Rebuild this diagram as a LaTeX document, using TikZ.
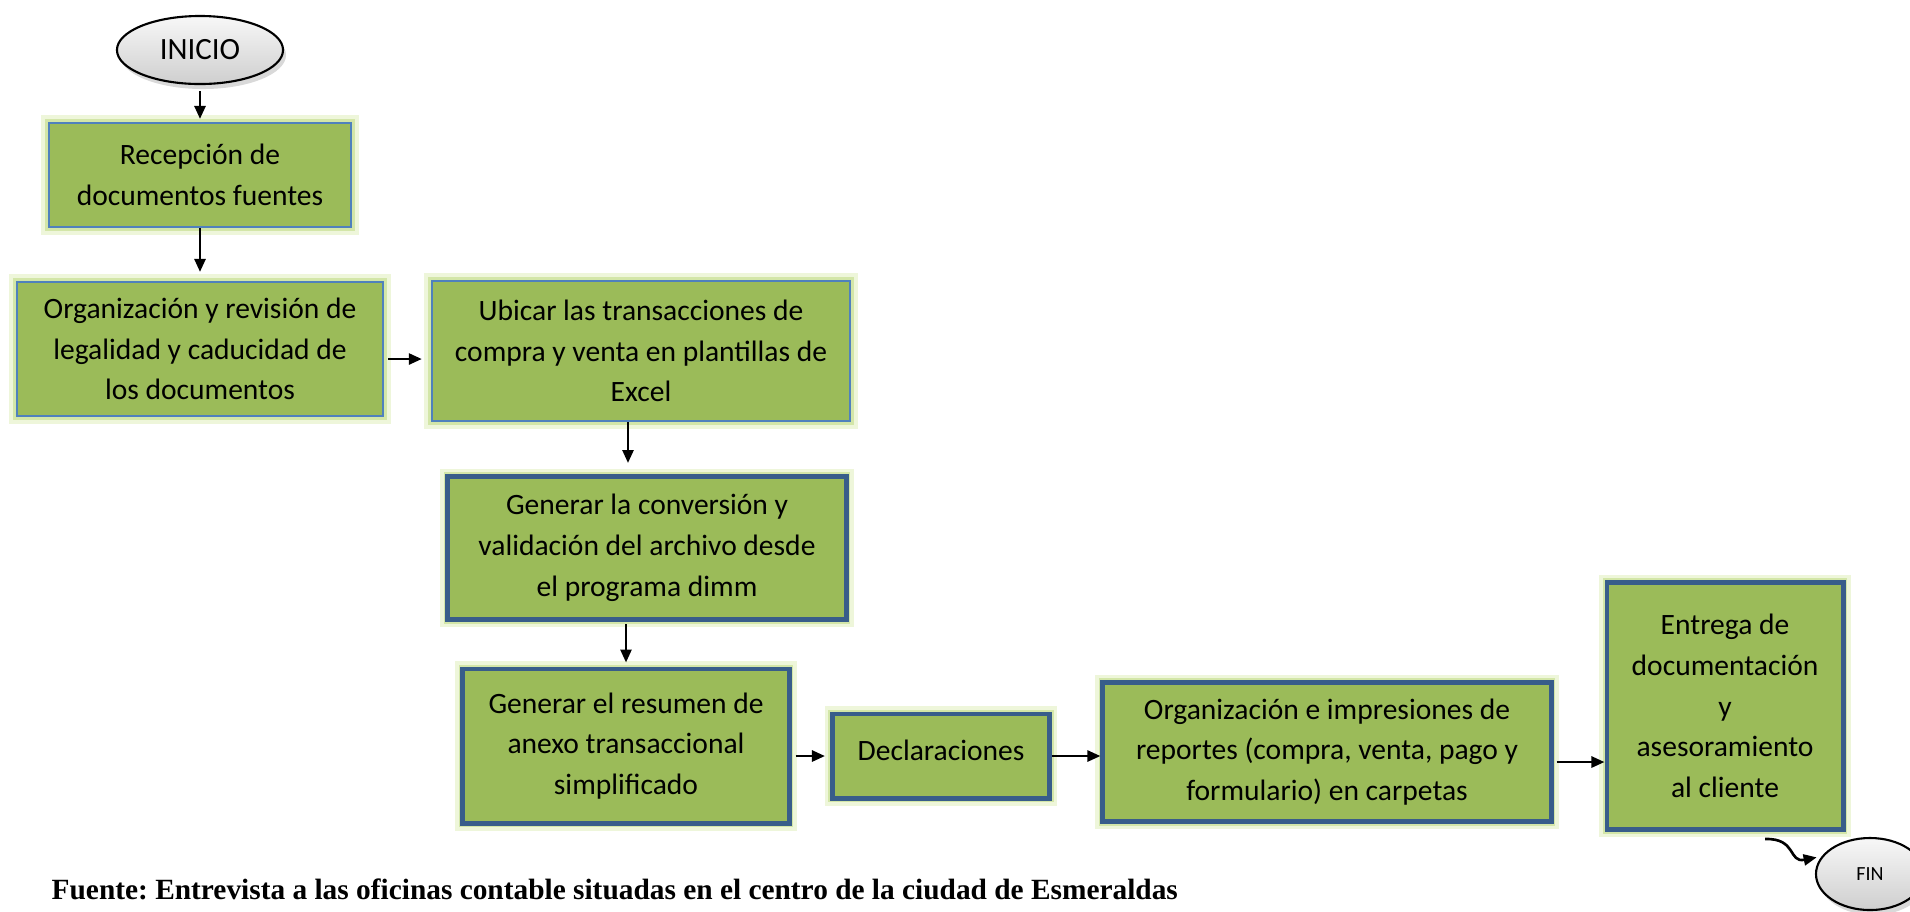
\documentclass[tikz,border=0pt]{standalone}
\usepackage{fontspec}
\setmainfont{Carlito}
\newfontfamily\fuentefont{Liberation Serif}
\usetikzlibrary{arrows.meta, positioning, shapes.geometric, shadows}
\frenchspacing

\definecolor{cajaverde}{HTML}{9BBB59}
\definecolor{bordeazul}{HTML}{4F81BD}
\definecolor{bordeoscuro}{HTML}{385D8A}
\definecolor{brillo}{HTML}{D3E6A8}
\definecolor{brillosuave}{HTML}{EEF6DA}

\begin{document}
\begin{tikzpicture}[x=0.01cm, y=-0.01cm,
		caja/.style={rectangle, fill=cajaverde, draw=bordeazul, line width=0.6pt,
			align=center, inner sep=0pt, font=\fontsize{8.4}{11.6}\selectfont,
			preaction={draw=brillosuave, line width=4.4pt},
			preaction={draw=brillo, line width=2.4pt}},
		cajagruesa/.style={caja, draw=bordeoscuro, line width=1.4pt},
		elipse/.style={ellipse, draw=black, line width=0.6pt, inner sep=0pt,
			top color=gray!6, bottom color=gray!38,
			drop shadow={opacity=0.3, shadow xshift=0.03cm, shadow yshift=-0.05cm}},
		flecha/.style={-{Triangle[length=0.13cm, width=0.11cm]}, line width=0.75pt}]
		
		% Page frame
		\useasboundingbox (0,0) rectangle (1910,911);
		\clip (0,0) rectangle (1910,911);
		
		% Start / end
		\node[elipse, minimum width=1.66cm, minimum height=0.68cm, font=\fontsize{8.8}{10}\selectfont] (inicio) at (200,50) {INICIO};
		\node[elipse, minimum width=1.08cm, minimum height=0.72cm, font=\fontsize{5.7}{7}\selectfont] (fin) at (1870,874) {FIN};
		
		% Steps, first column
		\node[caja, minimum width=3.02cm, minimum height=1.04cm] (recepcion) at (200,175) {Recepción de\\documentos fuentes};
		\node[caja, minimum width=3.66cm, minimum height=1.34cm] (revision) at (200,349) {Organización y revisión de\\legalidad y caducidad de\\los documentos};
		\node[caja, minimum width=4.18cm, minimum height=1.40cm] (ubicar) at (641,351) {Ubicar las transacciones de\\compra y venta en plantillas de\\Excel};
		
		% Steps with thick border
		\node[cajagruesa, minimum width=3.98cm, minimum height=1.43cm] (conversion) at (647,548) {Generar la conversión y\\validación del archivo desde\\el programa dimm};
		\node[cajagruesa, minimum width=3.26cm, minimum height=1.54cm] (resumen) at (626,746) {Generar el resumen de\\anexo transaccional\\simplificado};
		\node[cajagruesa, minimum width=2.17cm, minimum height=0.84cm, text depth=0.12cm] (declaraciones) at (941,756) {Declaraciones};
		\node[cajagruesa, minimum width=4.48cm, minimum height=1.39cm] (impresiones) at (1327,752) {Organización e impresiones de\\reportes (compra, venta, pago y\\formulario) en carpetas};
		\node[cajagruesa, minimum width=2.36cm, minimum height=2.47cm] (entrega) at (1725,706) {Entrega de\\documentación\\y\\asesoramiento\\al cliente};
		
		% Arrows
		\draw[flecha, shorten <=0.06cm, shorten >=0.03cm] (inicio) -- (recepcion);
		\draw[flecha, shorten >=0.09cm] (recepcion) -- (revision);
		\draw[flecha, shorten <=0.04cm, shorten >=0.09cm] ([yshift=-0.1cm]revision.east) -- ([yshift=-0.1cm]revision.east -| ubicar.west);
		\draw[flecha, shorten >=0.11cm] ([xshift=-0.13cm]ubicar.south) -- ([xshift=-0.13cm]ubicar.south |- conversion.north);
		\draw[flecha, shorten <=0.02cm, shorten >=0.04cm] (resumen.north |- conversion.south) -- (resumen.north);
		\draw[flecha, shorten <=0.04cm, shorten >=0.05cm] (declaraciones.west -| resumen.east) -- (declaraciones.west);
		\draw[flecha] (declaraciones.east) -- (declaraciones.east -| impresiones.west);
		\draw[flecha, shorten <=0.03cm] ([yshift=-0.1cm]impresiones.east) -- ([yshift=-0.1cm]impresiones.east -| entrega.west);
		\coordinate (salida) at (1765,839);
		\draw[flecha, shorten >=0.05cm] (salida) .. controls (1797,838) and (1788,863) .. (fin.160);
		
		% Source
		\node[anchor=west, inner sep=0pt, font=\fontsize{8.35}{9}\fuentefont\bfseries] (fuente) at (51,889) {Fuente: Entrevista a las oficinas contable situadas en el centro de la ciudad de Esmeraldas};
		
	\end{tikzpicture}
\end{document}
